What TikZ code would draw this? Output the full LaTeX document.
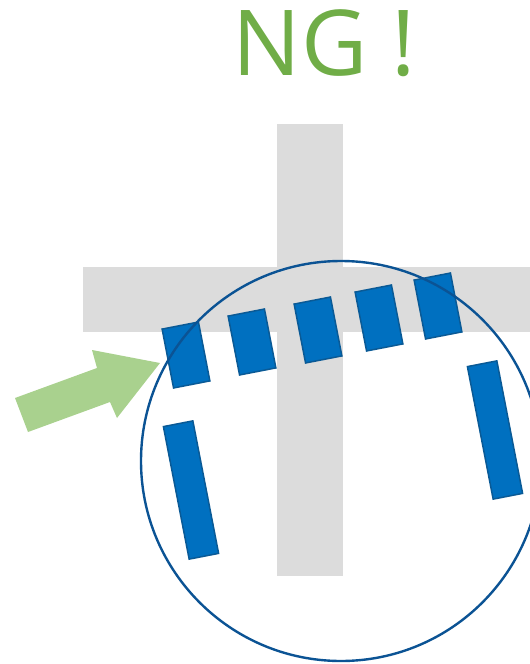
\documentclass[tikz,border=0pt]{standalone}
\usepackage{fontspec}
\newfontfamily\ngfont{Open Sans}
\definecolor{crossgray}{HTML}{DCDCDC}
\definecolor{padblue}{HTML}{0070C0}
\definecolor{padedge}{HTML}{0A5A96}
\definecolor{ringblue}{HTML}{0B5394}
\definecolor{arrowgreen}{HTML}{A9D18E}
\definecolor{nggreen}{HTML}{70AD47}
\tikzset{
  crossbar/.style={fill=crossgray, draw=none},
  pad/.style={fill=padblue, draw=padedge, line width=1.5pt, rotate=11, inner sep=0pt},
  shortpad/.style={pad, minimum width=37pt, minimum height=60pt},
  longpad/.style={pad, minimum width=30pt, minimum height=135pt},
  ring/.style={draw=ringblue, line width=2.4pt},
  pointer/.style={fill=arrowgreen, draw=none},
  verdict/.style={font=\ngfont\fontsize{91}{91}\selectfont, text=nggreen},
}

\begin{document}
\begin{tikzpicture}[x=1pt, y=-1pt]
\useasboundingbox (0,0) rectangle (530,664);
\clip (0,0) rectangle (530,664);
\node[verdict, anchor=base] (ng) at (324,75) {NG !};
\fill[crossbar] (277,124) rectangle (343,576);
\fill[crossbar] (83,267) rectangle (530,332);
\fill[pointer] (15,398) -- (97,368) -- (92,350) -- (160,363) -- (117,418) -- (110,402) -- (28,432) -- cycle;
\node[shortpad] (p1) at (186,355) {};
\node[shortpad] (p2) at (252,342) {};
\node[shortpad] (p3) at (318,330) {};
\node[shortpad] (p4) at (379,318) {};
\node[shortpad] (p5) at (438,306) {};
\node[longpad] (p6) at (191,490) {};
\node[longpad] (p7) at (495,430) {};
\draw[ring] (341,461) circle (200pt);
\end{tikzpicture}
\end{document}
